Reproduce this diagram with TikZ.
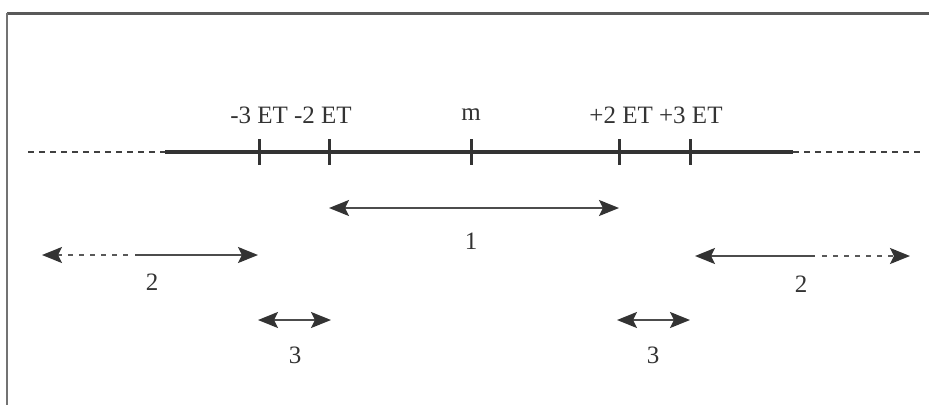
\documentclass[tikz,border=0pt]{standalone}
\usepackage{fontspec}
\setmainfont{Liberation Serif}
\usetikzlibrary{arrows.meta}
\begin{document}
\begin{tikzpicture}[x=1pt,y=-1pt,
  lbl/.style={font=\fontsize{25}{27}\selectfont, text=black!80, inner sep=0pt},
  axis/.style={line width=3.5pt, draw=black!80},
  axdash/.style={line width=1.5pt, draw=black!75, dash pattern=on 6pt off 5pt},
  tickmark/.style={line width=3pt, draw=black!80},
  arr/.style={line width=2pt, draw=black!70},
  hd/.style={},
  tipl/.style={{Stealth[length=20pt,width=16pt,inset=4pt,color=black!80]}-},
  tipr/.style={-{Stealth[length=20pt,width=16pt,inset=4pt,color=black!80]}},
  tipb/.style={{Stealth[length=20pt,width=16pt,inset=4pt,color=black!80]}-{Stealth[length=20pt,width=16pt,inset=4pt,color=black!80]}},
  dots/.style={line width=2pt, draw=black!65, dash pattern=on 5pt off 6pt}]
\useasboundingbox (0,0) rectangle (929,405);
\fill[white] (0,0) rectangle (929,405);
% frame
\coordinate (fTL) at (7,13);
\coordinate (fTR) at (929,13);
\coordinate (fBL) at (7,405);
\draw[line width=3pt, black!65] (fTR) -- (fTL);
\draw[line width=2pt, black!55] (fTL) -- (fBL);
% axis
\coordinate (dl) at (28,152);
\coordinate (sl) at (165,152);
\coordinate (sr) at (793,152);
\coordinate (dr) at (922,152);
\draw[axdash] (dl) -- (sl);
\draw[axdash] (sr) -- (dr);
\draw[axis] (sl) -- (sr);
\foreach \n/\x in {m3/259, m2/329, m/471, p2/619, p3/690}{
  \coordinate (t\n) at (\x,152);
  \draw[tickmark] (\x,139) -- (\x,165);
}
% labels
\node[lbl] (lm) at (291,115) {-3 ET -2 ET};
\node[lbl] (lmm) at (471,115) {m};
\node[lbl] (lp) at (656,115) {+2 ET +3 ET};
% arrow 1
\coordinate (a1l) at (329,208);
\coordinate (a1r) at (619,208);
\draw[arr,tipb] (a1l) -- (a1r);
\node[lbl] (l1) at (471,241) {1};
% arrow 2 left
\coordinate (a2la) at (42,255);
\coordinate (a2lb) at (130,255);
\coordinate (a2ld) at (135,255);
\coordinate (a2lc) at (258,255);
\draw[dots,tipl] (a2la) -- (a2lb);
\draw[arr,tipr] (a2ld) -- (a2lc);
\node[lbl] (l2l) at (152,282) {2};
% arrow 2 right
\coordinate (a2ra) at (695,256);
\coordinate (a2rb) at (815,256);
\coordinate (a2rd) at (822,256);
\coordinate (a2rc) at (910,256);
\draw[arr,tipl] (a2ra) -- (a2rb);
\draw[dots,tipr] (a2rd) -- (a2rc);
\node[lbl] (l2r) at (801,284) {2};
% arrow 3
\coordinate (a3la) at (258,320);
\coordinate (a3lb) at (331,320);
\draw[arr,tipb] (a3la) -- (a3lb);
\node[lbl] (l3l) at (295,355) {3};
\coordinate (a3ra) at (617,320);
\coordinate (a3rb) at (690,320);
\draw[arr,tipb] (a3ra) -- (a3rb);
\node[lbl] (l3r) at (653,355) {3};
\end{tikzpicture}
\end{document}
